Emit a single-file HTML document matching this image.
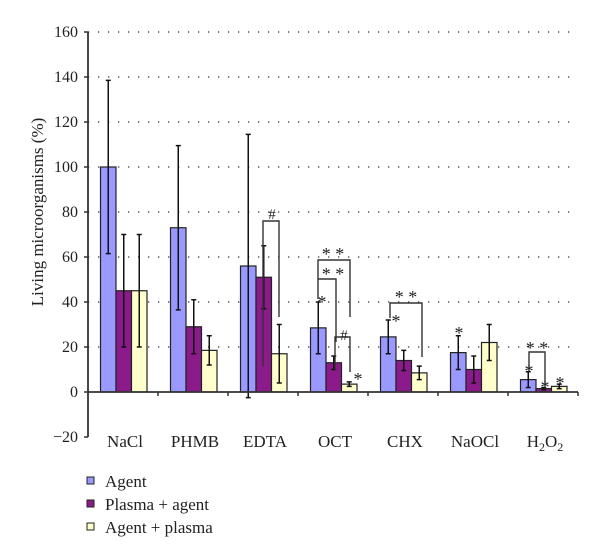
<!DOCTYPE html>
<html><head><meta charset="utf-8"><style>
body{margin:0;background:#fff;}
svg{display:block;font-family:"Liberation Serif",serif;}
</style></head><body>
<svg id="chart" width="600" height="559"></svg>
<script>
const categories=["NaCl","PHMB","EDTA","OCT","CHX","NaOCl","H2O2"];
const seriesNames=["Agent","Plasma + agent","Agent + plasma"];
const agentVals=[100,73,56,28.5,24.5,17.5,5.5];
const plasmaAgentVals=[45,29,51,13,14,10,1.5];
const agentPlasmaVals=[45,18.5,17,3.5,8.5,22,2.5];
const agentErr=[38.5,36.5,58.5,11.5,7.5,7.5,3.5];
const plasmaAgentErr=[25,12,14,3,4.5,6,0.5];
const agentPlasmaErr=[25,6.5,13,1,3,8,1];
const yTicks=[-20,0,20,40,60,80,100,120,140,160];
const colors=["#9999ff","#8b1a8b","#ffffcc"];
const NS="http://www.w3.org/2000/svg";
const svg=document.getElementById('chart');
const X0=88,X1=578,Y0=392,PX=45/20;
const y=v=>Y0-v*PX;
const groupW=(X1-X0)/categories.length;
const barW=15.5;
const bx=(g,s)=>X0+g*groupW+12.5+s*barW;
function el(tag,attrs,txt){const e=document.createElementNS(NS,tag);for(const k in attrs)e.setAttribute(k,attrs[k]);if(txt!==undefined)e.textContent=txt;svg.appendChild(e);return e;}
yTicks.forEach(t=>{
  if(t>0){const g=el('line',{x1:X0,x2:X1,y1:y(t),y2:y(t),stroke:'#333','stroke-width':1.3,'stroke-dasharray':'1.3 8.7'});
  
  }
  const tk=el('line',{x1:X0-4,x2:X0,y1:y(t),y2:y(t),stroke:'#333','stroke-width':1.5});
  
  
  const lb=el('text',{x:X0-10,y:y(t)+5,'text-anchor':'end','font-size':16,fill:'#222'},t<0?'\u2212'+(-t):String(t));
  
  
});
const series=[agentVals,plasmaAgentVals,agentPlasmaVals];
const errs=[agentErr,plasmaAgentErr,agentPlasmaErr];
categories.forEach((c,g)=>{
  series.forEach((vals,s)=>{
    const v=vals[g],x=bx(g,s);
    const r=el('rect',{x:x,y:y(v),width:barW,height:Y0-y(v),fill:colors[s],stroke:'#222','stroke-width':1.2});
    
    
    const e=errs[s][g],cx=x+barW/2;
    const eb=el('path',{d:`M${cx},${y(v-e)}V${y(v+e)}M${cx-2.5},${y(v+e)}h5M${cx-2.5},${y(v-e)}h5`,stroke:'#111','stroke-width':1.5,fill:'none'});
    
    
  });
  const tx=X0+(g+1)*groupW;
  const t=el('line',{x1:tx,x2:tx,y1:Y0,y2:Y0+4,stroke:'#333','stroke-width':1.5});
  
  
  const cx=X0+g*groupW+groupW/2+2;
  if(c==="H2O2"){
    const l=el('text',{x:cx,y:447,'text-anchor':'middle','font-size':17,fill:'#222'});
    l.innerHTML='H<tspan font-size="12" dy="4">2</tspan><tspan dy="-4">O</tspan><tspan font-size="12" dy="4">2</tspan>';
    
    
  } else {
    const l=el('text',{x:cx,y:447,'text-anchor':'middle','font-size':17,fill:'#222'},c);
    
    
  }
});
const ax=el('path',{d:`M${X0},${y(-20)}V${y(160)}M${X0},${Y0}H${X1}`,stroke:'#333','stroke-width':1.8,fill:'none'});


const yt=el('text',{x:0,y:0,transform:'translate(43,212) rotate(-90)','text-anchor':'middle','font-size':17,fill:'#222'},'Living microorganisms (%)');


const brackets=[
 "M263,366V221H279V317",
 "M318,299V279H336V342",
 "M318,279V260H350V317",
 "M335,370V337H350V372",
 "M390,318V303H422V357",
 "M529,372V352H545V386"
];
brackets.forEach(d=>{const b=el('path',{d:d,stroke:'#333','stroke-width':1.4,fill:'none'});

});
const marks=[[272,213,"#"],[333,254,"* *"],[333,274,"* *"],[322,302,"*"],[344,334,"#"],[358,379,"*"],[406,297,"* *"],[396,321,"*"],[459,333,"*"],[537,348,"* *"],[529,371,"*"],[545,387,"*"],[560,383,"*"]];
marks.forEach(m=>{const t=el('text',{x:m[0],y:m[1]+6,'text-anchor':'middle','font-size':m[2]=="#"?15:18,fill:'#222'},m[2]);

});
seriesNames.forEach((n,i)=>{
  const yy=481+i*23;
  const r=el('rect',{x:87,y:yy-4,width:7,height:7,fill:colors[i],stroke:'#222','stroke-width':1});
  
  
  const t=el('text',{x:105,y:yy+6,'font-size':17,fill:'#222'},n);
  
  
});
</script>
</body></html>
